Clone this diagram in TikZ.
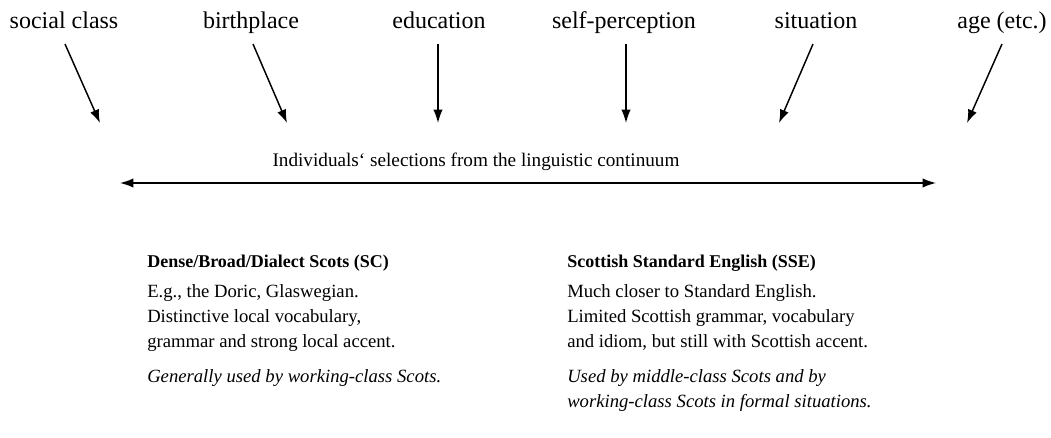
\documentclass[tikz,border=0pt]{standalone}
\usepackage{fontspec}
\setmainfont{Liberation Serif}
\usepackage{tikz}
\usetikzlibrary{arrows.meta, positioning}
\tikzset{
    factor/.style={anchor=base, inner sep=0pt, font=\fontsize{18pt}{22pt}\selectfont},
    caption/.style={anchor=base, inner sep=0pt, font=\fontsize{14.4pt}{18pt}\selectfont},
    variety/.style={anchor=north west, inner sep=0pt, align=left, font=\fontsize{14pt}{18.75pt}\selectfont},
    arrow/.style={-{Latex[length=10pt, width=7pt]}, line width=1.1pt},
    dblarrow/.style={{Latex[length=10pt, width=7pt]}-{Latex[length=10pt, width=7pt]}, line width=1.1pt}
}
\newcommand{\vartitle}[1]{{\fontsize{13.5pt}{18.75pt}\selectfont\bfseries #1}}

\begin{document}
\begin{tikzpicture}[x=0.75pt, y=-0.75pt]
    \useasboundingbox (0,0) rectangle (1051,437);

    % Factors and their arrows
    \foreach \i/\txt/\tx/\sx/\ex in {1/social class/64/65/100, 2/birthplace/251/253/287, 3/education/439/438/438, 4/self-perception/624/626/626, 5/situation/816/813/779, 6/age (etc.)/1002/1002/967} {
        \node[factor] (f\i) at (\tx,28) {\txt};
        \coordinate (s\i) at (\sx,44);
        \coordinate (t\i) at (\ex,123);
        \draw[arrow] (s\i) -- (t\i);
    }

    % Continuum
    \node[caption] (cont) at (476,166) {Individuals‘ selections from the linguistic continuum};
    \coordinate (cl) at (120,183);
    \coordinate (cr) at (936,183);
    \draw[dblarrow] (cl) -- (cr);

    % The two ends
    \node[variety] (sc) at (147,255) {\vartitle{Dense/Broad/Dialect Scots (SC)}\\[3.75pt]
        E.g., the Doric, Glaswegian.\\
        Distinctive local vocabulary,\\
        grammar and strong local accent.\\[7.5pt]
        \textit{Generally used by working-class Scots.}};
    \node[variety] (sse) at (567,255) {\vartitle{Scottish Standard English (SSE)}\\[3.75pt]
        Much closer to Standard English.\\
        Limited Scottish grammar, vocabulary\\
        and idiom, but still with Scottish accent.\\[7.5pt]
        \textit{Used by middle-class Scots and by}\\
        \textit{working-class Scots in formal situations.}};
\end{tikzpicture}
\end{document}
